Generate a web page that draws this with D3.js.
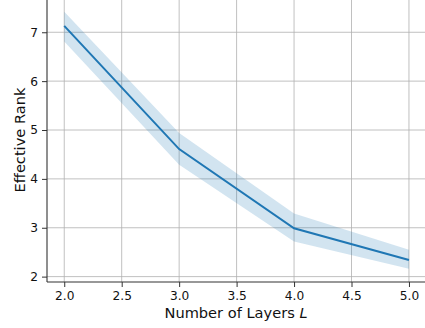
<!DOCTYPE html>
<html>
<head>
<meta charset="utf-8">
<script src="https://cdn.jsdelivr.net/npm/d3@7"></script>
<style>
  body { margin: 0; background: #fff; }
  svg { display: block; font-family: "DejaVu Sans", sans-serif; }
</style>
</head>
<body>
<svg id="chart"></svg>
<script>
// data
const layers = [2, 3, 4, 5];
const meanRank = [7.13, 4.61, 2.99, 2.34];
const lowerRank = [6.81, 4.29, 2.72, 2.16];
const upperRank = [7.42, 4.94, 3.29, 2.55];
const xTicks = [2.0, 2.5, 3.0, 3.5, 4.0, 4.5, 5.0];
const yTicks = [2, 3, 4, 5, 6, 7];

const width = 425, height = 328;
const margin = {top: 0, right: 0, bottom: 46, left: 47};

const svg = d3.select('#chart')
  .attr('width', width)
  .attr('height', height);

const x = d3.scaleLinear().domain([1.85, 5.15]).range([margin.left, 426.2]);
const y = d3.scaleLinear().domain([1.89, 7.66]).range([282, 0]);

const rows = layers.map((l, i) => ({l, m: meanRank[i], lo: lowerRank[i], hi: upperRank[i]}));

// grid
const grid = svg.append('g').attr('stroke', '#b0b0b0').attr('stroke-width', 0.8);
grid.selectAll('.gx').data(xTicks).join('line')
  .attr('x1', d => x(d)).attr('x2', d => x(d))
  .attr('y1', 0).attr('y2', 282);
grid.selectAll('.gy').data(yTicks).join('line')
  .attr('x1', margin.left).attr('x2', width)
  .attr('y1', d => y(d)).attr('y2', d => y(d));

// band + mean line
svg.append('path')
  .datum(rows)
  .attr('fill', '#1f77b4')
  .attr('fill-opacity', 0.2)
  .attr('d', d3.area().x(d => x(d.l)).y0(d => y(d.lo)).y1(d => y(d.hi)));

svg.append('path')
  .datum(rows)
  .attr('fill', 'none')
  .attr('stroke', '#1f77b4')
  .attr('stroke-width', 2)
  .attr('d', d3.line().x(d => x(d.l)).y(d => y(d.m)));

// axes
const xAxis = svg.append('g')
  .attr('transform', 'translate(0,282)')
  .call(d3.axisBottom(x).tickValues(xTicks).tickFormat(d3.format('.1f')).tickSize(5).tickPadding(4));
const yAxis = svg.append('g')
  .attr('transform', `translate(${margin.left},0)`)
  .call(d3.axisLeft(y).tickValues(yTicks).tickFormat(d3.format('d')).tickSize(5).tickPadding(4));

[xAxis, yAxis].forEach(a => {
  a.attr('font-family', '"DejaVu Sans", sans-serif').attr('font-size', 12.2);
  a.select('.domain').attr('stroke', '#333').attr('stroke-width', 1.1);
  a.selectAll('.tick line').attr('stroke', '#333').attr('stroke-width', 1);
  a.selectAll('.tick text').attr('fill', '#111');
});
xAxis.select('.domain').attr('d', `M${margin.left},0H${width}`);
yAxis.select('.domain').attr('d', 'M0,0V282');

// axis titles
const xt = svg.append('text')
  .attr('x', 236).attr('y', 318)
  .attr('text-anchor', 'middle')
  .attr('fill', '#111')
  .style('font-size', '14.6px');
xt.append('tspan').text('Number of Layers ');
xt.append('tspan').attr('font-style', 'italic').text('L');

svg.append('text')
  .attr('transform', 'translate(24.5,140) rotate(-90)')
  .attr('text-anchor', 'middle')
  .attr('fill', '#111')
  .style('font-size', '14.6px')
  .text('Effective Rank');
</script>
</body>
</html>
